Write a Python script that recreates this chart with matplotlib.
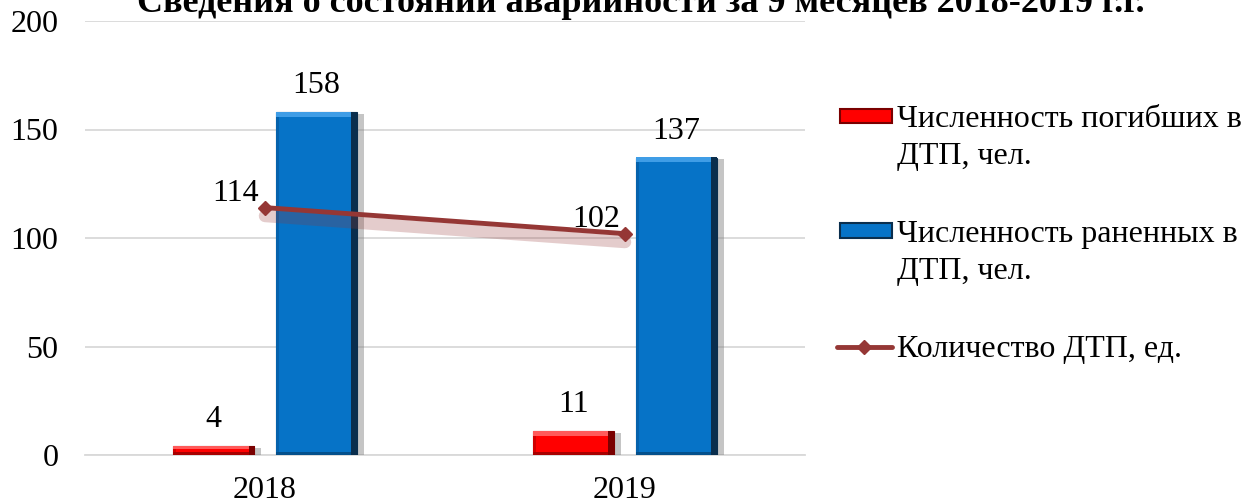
import matplotlib
matplotlib.use('Agg')
import matplotlib.pyplot as plt
import matplotlib.patheffects as pe
import matplotlib.transforms as mtransforms
from matplotlib.patches import Rectangle
from matplotlib.lines import Line2D
from matplotlib.colors import to_rgb
import numpy as np

# ── Data ──────────────────────────────────────────────────────────────────────
years     = ["2018", "2019"]
killed    = [4, 11]
injured   = [158, 137]
accidents = [114, 102]
yticks    = [0, 50, 100, 150, 200]
series_labels = [["Численность погибших в", "ДТП, чел."],
                 ["Численность раненных в", "ДТП, чел."],
                 ["Количество ДТП, ед."]]
title = "Сведения о состоянии аварийности за 9 месяцев 2018-2019 г.г."

# ── Style ─────────────────────────────────────────────────────────────────────
RED   = dict(base="#FF0000", top="#FF5A5A", right="#7A0000", bottom="#A80000", left="#D00000")
BLUE  = dict(base="#0673C7", top="#3F9DE6", right="#0A2E4D", bottom="#04508C", left="#0562AC")
LINE  = "#953735"
GRID  = "#D9D9D9"
FS    = 23

plt.rcParams['font.family'] = ['Liberation Serif', 'DejaVu Serif']

W, H = 1256, 504
def fx(px): return px / W
def fy(py): return 1 - py / H

fig = plt.figure(figsize=(W / 100, H / 100), dpi=100)
fig.patch.set_facecolor("white")
ax = fig.add_axes([fx(85), fy(455), 720 / W, 434 / H])
ax.set_xlim(-0.5, len(years) - 0.5)
ax.set_ylim(0, 200)


def bevel_image(pw, ph, pal):
    """RGB array for a bevelled bar face, pw x ph pixels."""
    pw, ph = max(int(round(pw)), 4), max(int(round(ph)), 4)
    img = np.tile(np.array(to_rgb(pal["base"])), (ph, pw, 1))
    t = min(5, ph // 3)
    img[:, :3] = to_rgb(pal["left"])
    img[-3:, :] = to_rgb(pal["bottom"])
    img[:t, :] = to_rgb(pal["top"])
    img[:, -6:] = to_rgb(pal["right"])
    return img


x = np.arange(len(years))
w, off = 0.225, 0.143
bar_shadow = [pe.SimplePatchShadow(offset=(5, -1), shadow_rgbFace="#7F7F7F", alpha=0.45),
              pe.Normal()]
b1 = ax.bar(x - off, killed, w, color=RED["base"], edgecolor=RED["right"], linewidth=0.8, zorder=3)
b2 = ax.bar(x + off, injured, w, color=BLUE["base"], edgecolor=BLUE["right"], linewidth=0.8, zorder=3)
for bars, pal in [(b1, RED), (b2, BLUE)]:
    for b in bars:
        b.set_path_effects(bar_shadow)
        x0, y0 = b.get_x(), b.get_y()
        x1, y1 = x0 + b.get_width(), y0 + b.get_height()
        (px0, py0), (px1, py1) = ax.transData.transform([(x0, y0), (x1, y1)])
        ax.imshow(bevel_image(px1 - px0, py1 - py0, pal), extent=(x0, x1, y0, y1),
                  aspect="auto", zorder=3.5, interpolation="nearest")

lab_off = 19 * 72 / 100
for xi, v in zip(x - off, killed):
    ax.annotate(str(v), (xi, v), xytext=(0, lab_off), textcoords="offset points",
                ha="center", va="baseline", fontsize=FS)
for xi, v in zip(x + off, injured):
    ax.annotate(str(v), (xi, v), xytext=(0, lab_off), textcoords="offset points",
                ha="center", va="baseline", fontsize=FS)

# line with its soft drop shadow
shadow_tr = mtransforms.offset_copy(ax.transData, fig=fig, x=0, y=-6, units="points")
ax.plot(x, accidents, color=LINE, lw=9, alpha=0.25, zorder=4,
        solid_capstyle="round", transform=shadow_tr)
ax.plot(x, accidents, color=LINE, lw=3.5, marker="D", ms=7, zorder=5)
for xi, v in zip(x, accidents):
    ax.annotate(str(v), (xi, v), xytext=(-21, 5), textcoords="offset points",
                ha="center", va="baseline", fontsize=FS, zorder=6)

ax.set_xlim(-0.5, len(years) - 0.5)
ax.set_ylim(0, 200)
ax.set_xticks(x)
ax.set_xticklabels(years, fontsize=FS)
ax.set_yticks(yticks)
ax.set_yticklabels([str(t) for t in yticks], fontsize=FS)
ax.tick_params(axis="both", length=0)
ax.tick_params(axis="y", pad=19)
ax.tick_params(axis="x", pad=15)
ax.grid(axis="y", color=GRID, linewidth=1.3, zorder=0)
ax.set_axisbelow(True)
for s in ["top", "right", "left"]:
    ax.spines[s].set_visible(False)
ax.spines["bottom"].set_color(GRID)
ax.spines["bottom"].set_linewidth(1.3)

# ── Title (clipped at the top as in the source) ──────────────────────────────
fig.text(fx(641), fy(12), title, ha="center", va="baseline",
         fontsize=26, fontweight="bold")

# ── Legend ────────────────────────────────────────────────────────────────────
for (y0, y1, pal) in [(109, 123, RED), (223, 238, BLUE)]:
    fig.add_artist(Rectangle((fx(840), fy(y1)), 52 / W, (y1 - y0) / H,
                             transform=fig.transFigure, facecolor=pal["base"],
                             edgecolor=pal["right"], linewidth=1.5))
for lines, base in zip(series_labels, [127, 242, 357]):
    for i, txt in enumerate(lines):
        fig.text(fx(897), fy(base + 37 * i), txt, ha="left", va="baseline", fontsize=FS)

fig.add_artist(Line2D([fx(837), fx(892)], [fy(347), fy(347)], transform=fig.transFigure,
                      color=LINE, lw=3.5, solid_capstyle="round"))
fig.add_artist(Line2D([fx(864)], [fy(347)], transform=fig.transFigure,
                      color=LINE, marker="D", ms=7))

fig.savefig("out.png", dpi=100, facecolor="white")
